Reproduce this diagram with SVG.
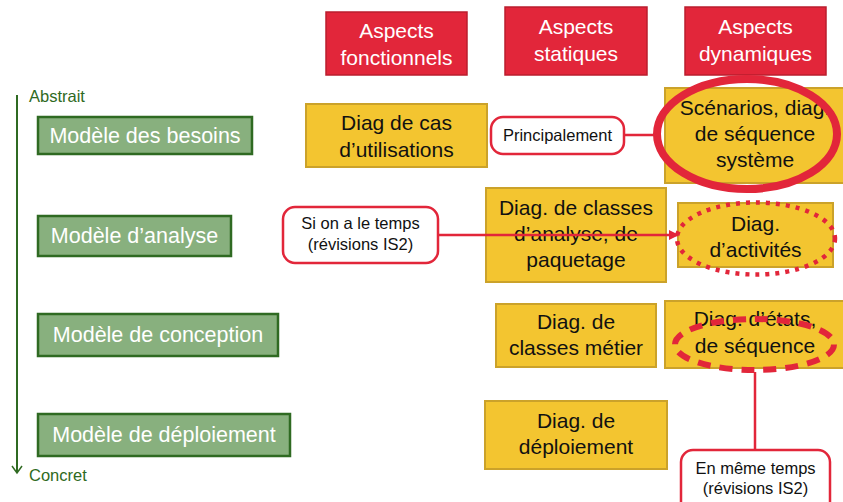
<svg xmlns="http://www.w3.org/2000/svg" width="843" height="502" viewBox="0 0 843 502">
<defs>
<style>
text{font-family:"Liberation Sans",Arial,sans-serif;text-anchor:middle}
.hdr rect{fill:#E2263A;stroke:#BA1E2E;stroke-width:1.5}
.hdr text{fill:#fff;font-size:21px}
.mdl rect{fill:#88B07E;stroke:#2F6A22;stroke-width:2.5}
.mdl text{fill:#fff;font-size:21.5px}
.dg rect{fill:#F3C530;stroke:#CBA22A;stroke-width:2}
.dg text{fill:#111;font-size:21px}
.call rect{fill:#fff;stroke:#E2263A;stroke-width:2.5}
.call text{fill:#111;font-size:16.5px}
.axis{fill:#2F6A22;font-size:16.5px;text-anchor:start}
.hl{fill:none;stroke:#E2263A}
.conn{stroke:#E2263A;stroke-width:2.5;fill:none}
</style>
<marker id="ah" viewBox="0 0 10 10" refX="9" refY="5" markerWidth="4" markerHeight="4" orient="auto" markerUnits="strokeWidth">
<path d="M0,0 L10,5 L0,10 z" fill="#E2263A"/>
</marker>
</defs>
<rect width="843" height="502" fill="#fff"/>

<g id="axis">
<line x1="17" y1="95" x2="17" y2="473" stroke="#2F6A22" stroke-width="2"/>
<polyline points="12,466 17,473 22,466" fill="none" stroke="#2F6A22" stroke-width="1.5"/>
<text class="axis" x="29" y="102">Abstrait</text>
<text class="axis" x="29" y="481">Concret</text>
</g>

<g id="h-fonctionnels" class="hdr"><rect x="326" y="12" width="141" height="63"/><text x="396.5" y="38">Aspects</text><text x="396.5" y="65">fonctionnels</text></g>
<g id="h-statiques" class="hdr"><rect x="505" y="7" width="142" height="68"/><text x="576" y="34">Aspects</text><text x="576" y="61">statiques</text></g>
<g id="h-dynamiques" class="hdr"><rect x="685" y="7" width="141" height="68"/><text x="755.5" y="34">Aspects</text><text x="755.5" y="61">dynamiques</text></g>

<g id="m-besoins" class="mdl"><rect x="38" y="117" width="214" height="37"/><text x="145" y="143">Modèle des besoins</text></g>
<g id="m-analyse" class="mdl"><rect x="38" y="216" width="193" height="40"/><text x="134.5" y="243">Modèle d’analyse</text></g>
<g id="m-conception" class="mdl"><rect x="38" y="314" width="240" height="42"/><text x="158" y="342">Modèle de conception</text></g>
<g id="m-deploiement" class="mdl"><rect x="38" y="414" width="252" height="42"/><text x="164" y="442">Modèle de déploiement</text></g>

<g id="d-cas" class="dg"><rect x="306" y="104" width="181" height="63"/><text x="396.5" y="130">Diag de cas</text><text x="396.5" y="157">d’utilisations</text></g>
<g id="d-scenarios" class="dg"><rect x="665" y="88" width="182" height="95"/><text x="755" y="115">Scénarios, diag.</text><text x="755" y="141">de séquence</text><text x="755" y="167">système</text></g>
<g id="d-classes-analyse" class="dg"><rect x="486" y="188" width="180" height="94"/><text x="576" y="215">Diag. de classes</text><text x="576" y="241">d’analyse, de</text><text x="576" y="267">paquetage</text></g>
<g id="d-activites" class="dg"><rect x="678" y="203" width="155" height="64"/><text x="755.5" y="231">Diag.</text><text x="755.5" y="257">d’activités</text></g>
<g id="d-classes-metier" class="dg"><rect x="496" y="304" width="160" height="63"/><text x="576" y="329">Diag. de</text><text x="576" y="355">classes métier</text></g>
<g id="d-etats" class="dg"><rect x="665" y="301" width="182" height="67"/><text x="755" y="326">Diag. d’états,</text><text x="755" y="353">de séquence</text></g>
<g id="d-deploiement" class="dg"><rect x="485" y="401" width="182" height="68"/><text x="576" y="428">Diag. de</text><text x="576" y="454">déploiement</text></g>

<g id="highlights">
<ellipse class="hl" cx="747" cy="134" rx="90" ry="55" stroke-width="8"/>
<ellipse class="hl" cx="756" cy="238.5" rx="79" ry="36" stroke-width="4.5" stroke-dasharray="4 6"/>
<ellipse class="hl" cx="754.5" cy="344.5" rx="79.5" ry="25.5" stroke-width="6" stroke-dasharray="13 9"/>
</g>

<g id="connectors">
<line class="conn" x1="624" y1="135" x2="657" y2="135"/>
<line class="conn" x1="438" y1="235" x2="678" y2="235" marker-end="url(#ah)"/>
<line class="conn" x1="755" y1="372" x2="755" y2="450"/>
</g>

<g id="c-principalement" class="call"><rect x="491" y="117" width="133" height="37" rx="12"/><text x="557.5" y="141">Principalement</text></g>
<g id="c-si-temps" class="call"><rect x="283" y="207" width="155" height="56" rx="12"/><text x="360.5" y="229">Si on a le temps</text><text x="360.5" y="250">(révisions IS2)</text></g>
<g id="c-meme-temps" class="call"><rect x="681" y="450" width="149" height="65" rx="12"/><text x="755.5" y="474">En même temps</text><text x="755.5" y="494">(révisions IS2)</text></g>
</svg>
